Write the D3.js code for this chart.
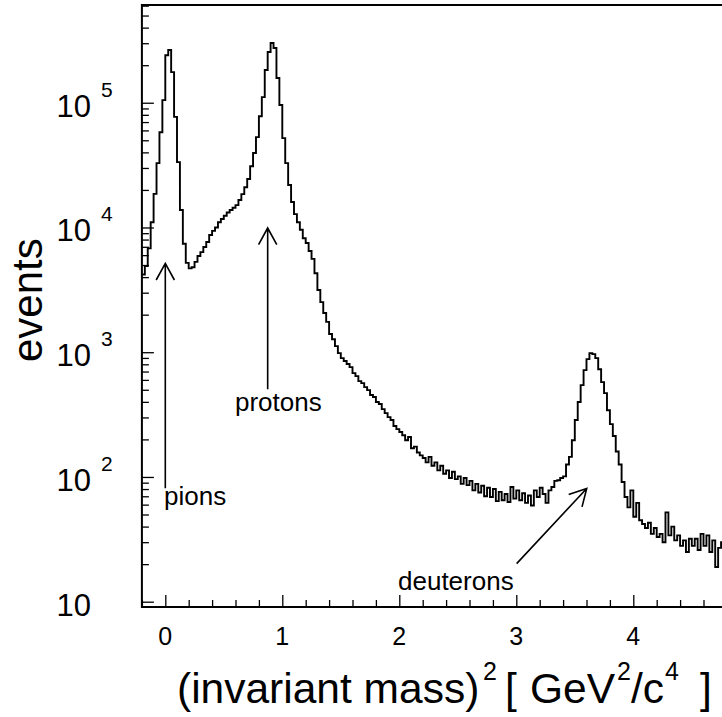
<!DOCTYPE html>
<html>
<head>
<meta charset="utf-8">
<script src="https://cdn.jsdelivr.net/npm/d3@7"></script>
<style>
  body { margin: 0; background: #fff; }
  text { font-family: "Liberation Sans", Arial, sans-serif; fill: #000; }
</style>
</head>
<body>
<script>
// histogram : m^2 bins from -0.2, width 0.025
const binStart = -0.2;
const binWidth = 0.025;
const counts = [
  4200, 4900, 6800, 11000, 18600, 32800, 58000, 105000, 240000, 265000,
  176000, 77000, 33400, 13800, 7400, 5200, 4700, 4800, 5300, 5900,
  6350, 6970, 7640, 8700, 9400, 10000, 11000, 11700, 12400, 13200,
  13800, 14400, 15100, 16600, 18500, 21000, 24500, 31000, 39500, 53000,
  78000, 111000, 183000, 255000, 301000, 275000, 158000, 96000, 52000, 32800,
  21900, 16000, 12800, 11000, 9600, 8200, 7500, 6470, 5600, 4300,
  3150, 2520, 2060, 1750, 1400, 1270, 1120, 984, 897, 850,
  805, 760, 680, 643, 587, 565, 525, 497, 454, 437,
  399, 384, 350, 325, 302, 286, 256, 242, 229, 216,
  197, 209, 170, 175, 157, 149, 142, 131, 145, 123,
  131, 113, 123, 106, 113, 98, 110, 96, 101, 88,
  98, 86, 93, 78, 88, 75, 85, 70, 82, 69,
  80, 64, 76, 65, 73, 63, 83, 67, 78, 65,
  74, 62, 71, 59, 78, 69, 82, 73, 62, 78,
  83, 93, 94, 98, 101, 126, 145, 197, 286, 399,
  545, 718, 880, 984, 966, 897, 730, 576, 470, 343,
  265, 213, 160, 126, 91, 69, 57, 78, 48, 62,
  45, 42, 39, 43, 35, 39, 33, 35, 30, 52,
  34, 40, 31, 34, 28, 31, 25, 32, 28, 32,
  26, 35, 28, 34, 25, 31, 19, 27, 30
];
const xMajor = [0, 1, 2, 3, 4];
const xMinor = [-0.2, 0.2, 0.4, 0.6, 0.8, 1.2, 1.4, 1.6, 1.8, 2.2, 2.4, 2.6, 2.8,
                3.2, 3.4, 3.6, 3.8, 4.2, 4.4, 4.6, 4.8];
const yExponents = [1, 2, 3, 4, 5];
const annotations = [
  { label: 'pions', tx: 164, ty: 505, from: [0, 81], to: [0, 5160] },
  { label: 'protons', tx: 235, ty: 411, from: [0.875, 505], to: [0.875, 9900] },
  { label: 'deuterons', tx: 398, ty: 590, from: [3.003, 20.2], to: [3.602, 80.9] }
];

const W = 722, H = 717;
const svg = d3.select('body').append('svg')
  .attr('width', W).attr('height', H)
  .style('display', 'block');
svg.append('rect').attr('width', W).attr('height', H).attr('fill', '#fff');

const gauche = 141.9, droite = 750.3, haut = 5, bas = 607;
const x = d3.scaleLinear().domain([-0.2, 5]).range([gauche, droite]);
const y = d3.scaleLog().domain([Math.pow(10, 0.9575), Math.pow(10, 5.7835)]).range([bas, haut]);

// minor y ticks 2..9 par décade
const yMinor = [];
for (let e = 0; e <= 5; e++) {
  for (let m = 2; m <= 9; m++) {
    const v = m * Math.pow(10, e);
    if (v > y.domain()[0] && v < y.domain()[1]) yMinor.push(v);
  }
}
const yMajor = yExponents.map(e => Math.pow(10, e));

// axes
const gx = svg.append('g').attr('transform', `translate(0,${bas})`);
gx.append('g').call(d3.axisBottom(x).tickValues(xMajor).tickSize(-12).tickFormat(''));
gx.append('g').call(d3.axisBottom(x).tickValues(xMinor).tickSize(-7).tickFormat(''));
const gy = svg.append('g').attr('transform', `translate(${gauche},0)`);
gy.append('g').call(d3.axisLeft(y).tickValues(yMajor).tickSize(-12).tickFormat(''));
gy.append('g').call(d3.axisLeft(y).tickValues(yMinor).tickSize(-7).tickFormat(''));
svg.selectAll('.domain').remove();
svg.selectAll('.tick line').attr('stroke', '#000').attr('stroke-width', 1.3);

// cadre
svg.append('rect')
  .attr('x', gauche).attr('y', haut)
  .attr('width', droite - gauche).attr('height', bas - haut)
  .attr('fill', 'none').attr('stroke', '#000').attr('stroke-width', 2);

// histogramme en escalier
const pts = counts.map((c, i) => [binStart + i * binWidth, c]);
pts.push([binStart + counts.length * binWidth, counts[counts.length - 1]]);
const line = d3.line()
  .x(d => x(d[0]))
  .y(d => y(d[1]))
  .curve(d3.curveStepAfter);
svg.append('path')
  .attr('d', line(pts))
  .attr('fill', 'none')
  .attr('stroke', '#000')
  .attr('stroke-width', 1.9)
  .attr('stroke-linejoin', 'miter');

// labels axe x
svg.selectAll('.xlab').data(xMajor).enter().append('text')
  .attr('x', d => x(d)).attr('y', 645)
  .attr('text-anchor', 'middle')
  .attr('font-size', 25)
  .text(d => d);

// labels axe y
yExponents.forEach(e => {
  const ty = y(Math.pow(10, e));
  svg.append('text')
    .attr('x', 91).attr('y', ty + 14)
    .attr('text-anchor', 'end')
    .attr('font-size', 31)
    .text('10');
  if (e > 1) {
    svg.append('text')
      .attr('x', 101).attr('y', ty - 6)
      .attr('font-size', 21)
      .text(e);
  }
});

// titres
svg.append('text')
  .attr('transform', 'translate(42,362) rotate(-90)')
  .attr('font-size', 42)
  .text('events');

// titre x : morceaux placés comme dans TLatex (espaces larges)
const titleParts = [
  { t: '(invariant mass)', x: 177, sup: false },
  { t: '2', x: 483, sup: true },
  { t: '[', x: 505, sup: false },
  { t: 'GeV', x: 530, sup: false },
  { t: '2', x: 617, sup: true },
  { t: '/c', x: 631, sup: false },
  { t: '4', x: 665, sup: true },
  { t: ']', x: 700, sup: false }
];
const title = svg.append('text').attr('y', 703).attr('font-size', 42.5);
titleParts.forEach(p => {
  title.append('tspan')
    .attr('x', p.x)
    .attr('y', p.sup ? 680 : 703)
    .attr('font-size', p.sup ? 25 : 42.5)
    .text(p.t);
});

// flèches et étiquettes
annotations.forEach(a => {
  const x0 = x(a.from[0]), y0 = y(a.from[1]);
  const x1 = x(a.to[0]), y1 = y(a.to[1]);
  const ang = Math.atan2(y1 - y0, x1 - x0);
  const hl = 19, ha = 0.5;
  const h1 = [x1 - hl * Math.cos(ang - ha), y1 - hl * Math.sin(ang - ha)];
  const h2 = [x1 - hl * Math.cos(ang + ha), y1 - hl * Math.sin(ang + ha)];
  svg.append('path')
    .attr('d', `M${x0},${y0}L${x1},${y1}M${h1[0]},${h1[1]}L${x1},${y1}L${h2[0]},${h2[1]}`)
    .attr('fill', 'none')
    .attr('stroke', '#000')
    .attr('stroke-width', 1.6);
  svg.append('text')
    .attr('x', a.tx).attr('y', a.ty)
    .attr('font-size', 26)
    .text(a.label);
});
</script>
</body>
</html>
